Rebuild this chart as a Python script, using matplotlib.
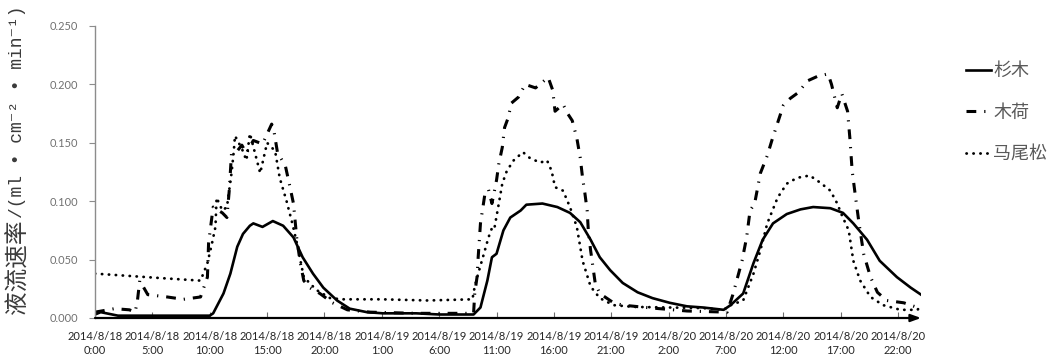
import matplotlib
matplotlib.use("Agg")
import matplotlib.pyplot as plt
from matplotlib.ticker import FormatStrFormatter

# ---- data (hours since 2014/8/18 0:00, flow rate) ----
shamu_h = [0, 0.5, 1, 2, 3, 4, 5, 6, 7, 8,
           9, 10, 10.3, 11.2, 11.8, 12.4, 12.9, 13.5, 13.8, 14.6,
           15.5, 16.4, 17.3, 18.1, 19, 19.9, 21.1, 22.2, 23.7, 25.1,
           28, 30, 33, 33.6, 34.2, 34.6, 35, 35.6, 36.2, 37.1,
           37.6, 39, 40.3, 41.4, 42.3, 43.2, 44, 44.9, 46, 47.3,
           48.6, 50.1, 51.6, 53, 54.8, 55.4, 56.5, 57.4, 58.2, 59.1,
           60.3, 61.5, 62.6, 64.1, 65.2, 66.1, 67.3, 68.4, 69.9, 71.1,
           72]
shamu_v = [0.003, 0.005, 0.004, 0.002, 0.002, 0.002, 0.002, 0.002, 0.002, 0.002,
           0.002, 0.002, 0.004, 0.021, 0.038, 0.061, 0.072, 0.079, 0.081, 0.078,
           0.083, 0.079, 0.069, 0.052, 0.038, 0.026, 0.015, 0.008, 0.005, 0.004,
           0.004, 0.003, 0.003, 0.009, 0.032, 0.052, 0.055, 0.075, 0.086, 0.092,
           0.097, 0.098, 0.095, 0.090, 0.082, 0.067, 0.052, 0.041, 0.030, 0.022,
           0.017, 0.013, 0.010, 0.009, 0.007, 0.011, 0.021, 0.047, 0.067, 0.081,
           0.089, 0.093, 0.095, 0.094, 0.090, 0.081, 0.067, 0.049, 0.035, 0.026,
           0.020]

muhe_h = [0, 1.7, 3, 3.5, 3.7, 3.9, 4.6, 6.3, 7.7, 9.2,
          9.8, 9.9, 10.3, 11.1, 11.5, 11.7, 11.9, 12.4, 12.8, 13.2,
          13.8, 14.6, 15.4, 15.6, 15.9, 16.6, 17, 17.3, 17.6, 17.9,
          18.2, 18.7, 19.6, 20.7, 22, 24, 28, 33, 33.1, 33.3,
          33.4, 33.6, 34, 34.3, 34.6, 35, 35.2, 35.5, 35.7, 36,
          36.3, 36.9, 37.5, 38.4, 39.5, 39.9, 40.1, 40.8, 41.2, 41.6,
          42, 42.3, 42.5, 42.7, 42.9, 43, 43.2, 43.4, 43.6, 44,
          45.2, 46, 48.6, 51.6, 55.1, 55.6, 56.1, 56.4, 56.8, 57.1,
          57.5, 58, 58.6, 59, 59.5, 60, 60.6, 61.3, 62.1, 63,
          63.9, 64.2, 64.7, 65.1, 65.6, 65.8, 66, 66.3, 66.6, 67,
          67.6, 68.2, 69, 70.5, 71.7, 72]
muhe_v = [0.005, 0.008, 0.007, 0.005, 0.015, 0.032, 0.020, 0.018, 0.016, 0.018,
          0.035, 0.064, 0.095, 0.090, 0.086, 0.109, 0.141, 0.143, 0.148, 0.141,
          0.152, 0.149, 0.166, 0.160, 0.142, 0.130, 0.112, 0.098, 0.067, 0.047,
          0.032, 0.026, 0.021, 0.013, 0.007, 0.005, 0.004, 0.004, 0.021, 0.035,
          0.052, 0.081, 0.107, 0.110, 0.098, 0.118, 0.132, 0.146, 0.163, 0.171,
          0.184, 0.189, 0.200, 0.197, 0.206, 0.195, 0.177, 0.183, 0.175, 0.169,
          0.154, 0.137, 0.120, 0.107, 0.092, 0.075, 0.058, 0.044, 0.030, 0.021,
          0.013, 0.011, 0.0085, 0.006, 0.005, 0.020, 0.038, 0.049, 0.069, 0.092,
          0.098, 0.124, 0.139, 0.152, 0.167, 0.182, 0.188, 0.193, 0.203, 0.207,
          0.209, 0.200, 0.180, 0.192, 0.177, 0.154, 0.126, 0.103, 0.081, 0.055,
          0.035, 0.022, 0.015, 0.013, 0.009, 0.009]

mws_h = [0, 3, 6, 9.2, 9.8, 10.2, 10.5, 10.6, 11.1, 11.5,
         11.9, 12.1, 12.2, 12.8, 13.2, 13.5, 13.9, 14.4, 15, 15.7,
         16.1, 16.7, 17.2, 17.6, 18.2, 19.3, 20.5, 21.6, 25, 29,
         32.9, 33.1, 33.4, 33.9, 34.3, 34.6, 34.8, 35.2, 35.5, 35.9,
         36.5, 37.3, 37.9, 38.8, 39.4, 39.8, 40.1, 40.8, 41.4, 42,
         42.5, 43.2, 44, 45.2, 47, 50, 53, 54.8, 55.4, 56.5,
         57.4, 58, 58.6, 59.5, 60.3, 61.2, 62.3, 63.2, 64.1, 64.7,
         65.1, 65.7, 66.1, 66.7, 67.6, 68.7, 70.2, 71.7, 72]
mws_v = [0.038, 0.036, 0.034, 0.032, 0.047, 0.064, 0.078, 0.103, 0.092, 0.095,
         0.124, 0.143, 0.156, 0.145, 0.135, 0.158, 0.143, 0.124, 0.150, 0.143,
         0.120, 0.100, 0.081, 0.064, 0.035, 0.024, 0.017, 0.016, 0.016, 0.015,
         0.016, 0.027, 0.038, 0.055, 0.069, 0.077, 0.076, 0.098, 0.115, 0.126,
         0.135, 0.142, 0.137, 0.133, 0.135, 0.126, 0.112, 0.109, 0.095, 0.078,
         0.049, 0.027, 0.017, 0.011, 0.0095, 0.009, 0.0085, 0.007, 0.011, 0.015,
         0.038, 0.058, 0.081, 0.103, 0.115, 0.120, 0.122, 0.116, 0.109, 0.098,
         0.088, 0.075, 0.049, 0.032, 0.018, 0.011, 0.007, 0.007, 0.011]

series_names = ["杉木", "木荷", "马尾松"]
tick_hours = [0, 5, 10, 15, 20, 25, 30, 35, 40, 45, 50, 55, 60, 65, 70]
tick_labels = ["2014/8/18\n0:00", "2014/8/18\n5:00", "2014/8/18\n10:00",
               "2014/8/18\n15:00", "2014/8/18\n20:00", "2014/8/19\n1:00",
               "2014/8/19\n6:00", "2014/8/19\n11:00", "2014/8/19\n16:00",
               "2014/8/19\n21:00", "2014/8/20\n2:00", "2014/8/20\n7:00",
               "2014/8/20\n12:00", "2014/8/20\n17:00", "2014/8/20\n22:00"]
y_ticks = [0.0, 0.05, 0.10, 0.15, 0.20, 0.25]
y_label_cjk = "液流速率"
y_label_unit = "/(ml • cm⁻² • min⁻¹)"

# ---- figure ----
W, H = 1064, 358
fig = plt.figure(figsize=(W / 100, H / 100), dpi=100)
ax = fig.add_axes([95 / W, 1 - 318 / H, (921 - 95) / W, (318 - 26) / H])

ax.plot(shamu_h, shamu_v, color="black", lw=1.9, solid_joinstyle="round",
        label=series_names[0])
ax.plot(muhe_h, muhe_v, color="black", lw=2.2,
        linestyle=(0, (3.2, 2.6, 0.4, 2.6)), dash_capstyle="butt",
        label=series_names[1])
ax.plot(mws_h, mws_v, color="black", lw=2.0,
        linestyle=(0, (0.1, 2.4)), dash_capstyle="round",
        label=series_names[2])

ax.set_xlim(0, 72)
ax.set_ylim(0, 0.25)
ax.set_xticks(tick_hours)
ax.set_xticklabels(tick_labels, fontsize=8.0, color="#262626",
                   family=["Lato", "DejaVu Sans"], linespacing=1.4)
ax.set_yticks(y_ticks)
ax.yaxis.set_major_formatter(FormatStrFormatter("%.3f"))
for t in ax.get_yticklabels():
    t.set_fontsize(7.9)
    t.set_color("#707070")
    t.set_family(["Lato", "DejaVu Sans"])

ax.spines["top"].set_visible(False)
ax.spines["right"].set_visible(False)
ax.spines["left"].set_color("#8c8c8c")
ax.spines["left"].set_linewidth(1.0)
ax.spines["bottom"].set_visible(False)
ax.tick_params(axis="y", direction="out", length=4, color="#8c8c8c", pad=8)
ax.tick_params(axis="x", direction="in", length=4, color="#6e6e6e", pad=9)

ax.annotate("", xy=(1.0, 0), xycoords="axes fraction", xytext=(0, 0),
            textcoords="axes fraction",
            arrowprops=dict(arrowstyle="-|>,head_length=0.6,head_width=0.22",
                            color="black", lw=1.6, shrinkA=0, shrinkB=0))

fig.text(18 / W, 1 - 267 / H, y_label_cjk, rotation=90, ha="center",
         va="center", fontsize=17, color="#3a3a3a", family="Noto Sans CJK SC")
fig.text(18 / W, 1 - 112 / H, y_label_unit, rotation=90, ha="center",
         va="center", fontsize=13, color="#3a3a3a",
         family=["Liberation Mono", "Noto Sans CJK SC", "DejaVu Sans"])

leg = ax.legend(loc="upper left", bbox_to_anchor=(966 / W, 1 - 62 / H),
                bbox_transform=fig.transFigure, frameon=False,
                handlelength=1.4, handletextpad=0.1, labelspacing=1.3,
                borderpad=0, borderaxespad=0,
                prop={"family": "Noto Sans CJK SC", "size": 13})
for t in leg.get_texts():
    t.set_color("#595959")

fig.savefig("out.png", dpi=100)
